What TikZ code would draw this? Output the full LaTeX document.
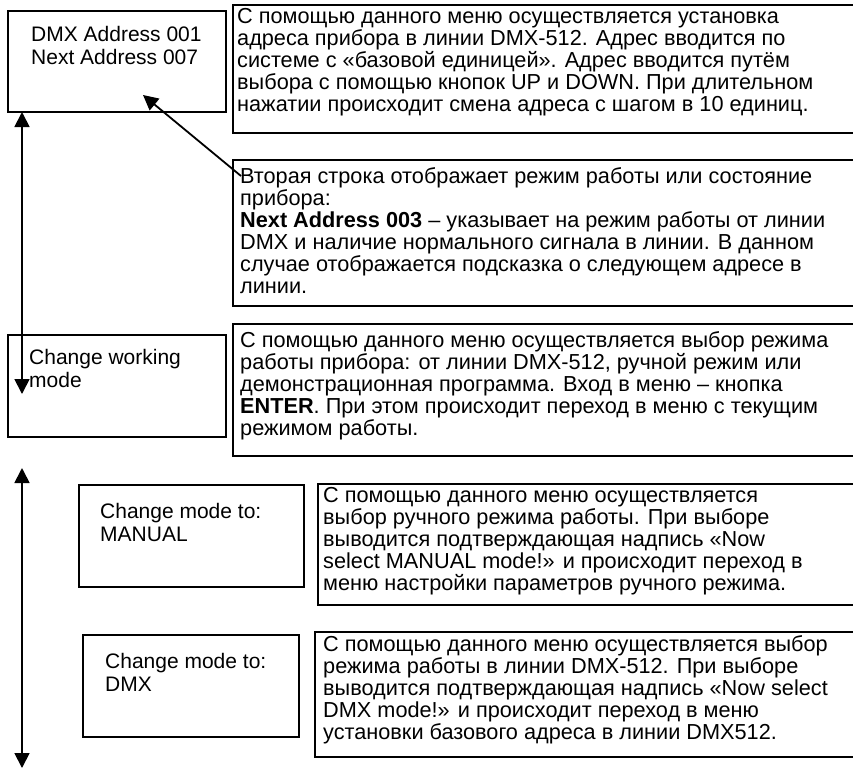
\documentclass[tikz,border=0pt]{standalone}
\usepackage{fontspec}
\setmainfont{Liberation Sans}
\usetikzlibrary{arrows.meta}
\newcommand{\txtfont}{\fontsize{21.7}{22}\selectfont}
\newcommand{\lblfont}{\fontsize{21}{22.8}\selectfont}
\begin{document}
\begin{tikzpicture}[x=1pt,y=-1pt,
  lbox/.style={draw, line width=1.3pt, inner sep=0pt, outer sep=0pt, anchor=north west},
  tbox/.style={draw, line width=1.9pt, inner sep=0pt, outer sep=0pt, anchor=north west},
  txt/.style={font=\txtfont, align=left, inner sep=0pt, anchor=north west, execute at begin node=\strut},
  lbl/.style={font=\lblfont, align=left, inner sep=0pt, anchor=north west, execute at begin node=\strut},
  arr/.style={line width=1.8pt, -{Triangle[length=15pt,width=15pt]}},
  darr/.style={line width=1.8pt, {Triangle[length=15pt,width=15pt]}-{Triangle[length=15pt,width=15pt]}}]
\useasboundingbox (0,0) rectangle (853,769);
% boxes
\node[lbox, minimum width=218pt, minimum height=101pt] (b1) at (8,11) {};
\node[tbox, minimum width=625pt, minimum height=128pt] (t1) at (233,5) {};
\node[tbox, minimum width=625pt, minimum height=146pt] (t2) at (233,160) {};
\node[lbox, minimum width=218pt, minimum height=102pt] (b2) at (8,335) {};
\node[tbox, minimum width=625pt, minimum height=132pt] (t3) at (233,324) {};
\node[lbox, minimum width=225pt, minimum height=102pt] (b3) at (79,485) {};
\node[tbox, minimum width=540pt, minimum height=121pt] (t4) at (318,484) {};
\node[lbox, minimum width=216pt, minimum height=102pt] (b4) at (83,635) {};
\node[tbox, minimum width=543pt, minimum height=125pt] (t5) at (315,632) {};
% texts
\node[lbl] (b1t) at (31,26.5) {DMX Address 001\\Next Address 007};
\node[txt] (t1t) at (237,8.6) {С помощью данного меню осуществляется установка\\адреса прибора в линии DMX-512. Адрес вводится по\\системе с «базовой единицей». Адрес вводится путём\\выбора с помощью кнопок UP и DOWN. При длительном\\нажатии происходит смена адреса с шагом в 10 единиц.};
\node[txt] (t2t) at (240,167) {Вторая строка отображает режим работы или состояние\\прибора:\\\textbf{Next Address 003} – указывает на режим работы от линии\\DMX и наличие нормального сигнала в линии. В данном\\случае отображается подсказка о следующем адресе в\\линии.};
\node[lbl] (b2t) at (29,349.5) {Change working\\mode};
\node[txt] (t3t) at (240,331.6) {С помощью данного меню осуществляется выбор режима\\работы прибора: от линии DMX-512, ручной режим или\\демонстрационная программа. Вход в меню – кнопка\\\textbf{ENTER}. При этом происходит переход в меню с текущим\\режимом работы.};
\node[lbl] (b3t) at (100,503.5) {Change mode to:\\MANUAL};
\node[txt] (t4t) at (323,487.6) {С помощью данного меню осуществляется\\выбор ручного режима работы. При выборе\\выводится подтверждающая надпись «Now\\select MANUAL mode!» и происходит переход в\\меню настройки параметров ручного режима.};
\node[lbl] (b4t) at (105,653.5) {Change mode to:\\DMX};
\node[txt] (t5t) at (323,635.6) {С помощью данного меню осуществляется выбор\\режима работы в линии DMX-512. При выборе\\выводится подтверждающая надпись «Now select\\DMX mode!» и происходит переход в меню\\установки базового адреса в линии DMX512.};
% connectors
\coordinate (a1top) at (22,112);
\coordinate (a1bot) at (22,394);
\coordinate (a2top) at (22,468);
\coordinate (a2bot) at (22,768);
\coordinate (dstart) at (241,176);
\coordinate (dend) at (143,95);
\draw[darr] (a1bot) -- (a1top);
\draw[darr] (a2top) -- (a2bot);
\draw[arr] (dstart) -- (dend);
\end{tikzpicture}
\end{document}
